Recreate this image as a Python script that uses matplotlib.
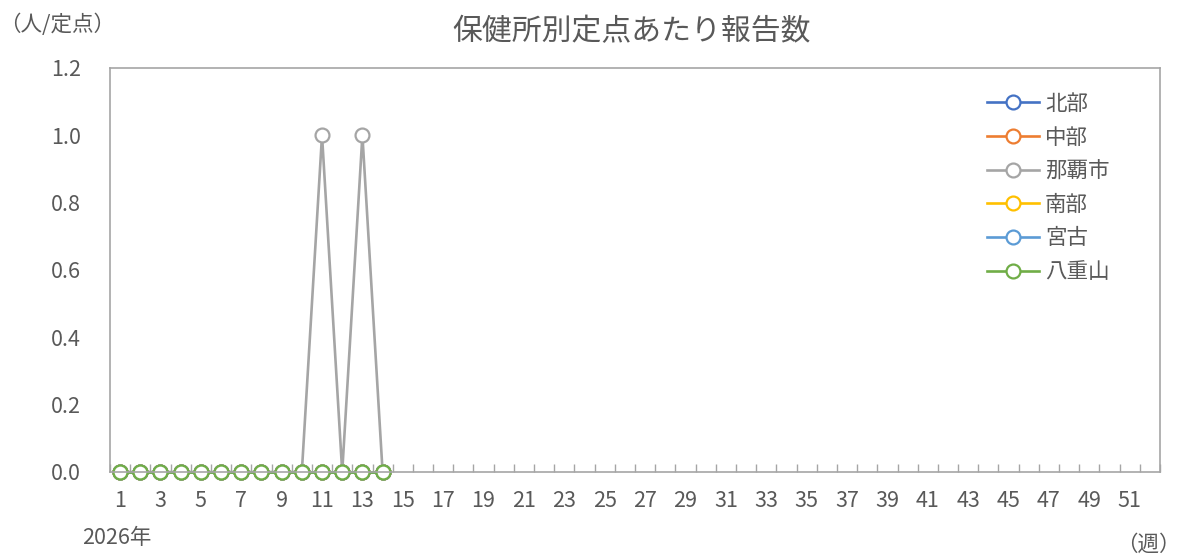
import matplotlib
matplotlib.use("Agg")
import matplotlib.pyplot as plt
import numpy as np

plt.rcParams['font.family'] = ['Noto Sans CJK JP', 'DejaVu Sans']

weeks = list(range(1, 15))
series_names = ['北部', '中部', '那覇市', '南部', '宮古', '八重山']
hokubu = [0, 0, 0, 0, 0, 0, 0, 0, 0, 0, 0, 0, 0, 0]
chubu = [0, 0, 0, 0, 0, 0, 0, 0, 0, 0, 0, 0, 0, 0]
naha = [0, 0, 0, 0, 0, 0, 0, 0, 0, 0, 1, 0, 1, 0]
nanbu = [0, 0, 0, 0, 0, 0, 0, 0, 0, 0, 0, 0, 0, 0]
miyako = [0, 0, 0, 0, 0, 0, 0, 0, 0, 0, 0, 0, 0, 0]
yaeyama = [0, 0, 0, 0, 0, 0, 0, 0, 0, 0, 0, 0, 0, 0]
colors = ['#4472C4', '#ED7D31', '#A5A5A5', '#FFC000', '#5B9BD5', '#70AD47']

xtick_labels = [str(w) for w in range(1, 53, 2)]
yticks = [0.0, 0.2, 0.4, 0.6, 0.8, 1.0, 1.2]

fig = plt.figure(figsize=(11.87, 5.59), dpi=100)
ax = fig.add_axes([110/1187, 87/559, 1050/1187, 404/559])

text_color = '#595959'
fs = 15.5
for name, vals, c in zip(series_names, [hokubu, chubu, naha, nanbu, miyako, yaeyama], colors):
    ax.plot(weeks, vals, color=c, lw=1.9, marker='o', ms=10,
            mfc='white', mec=c, mew=1.6, label=name, clip_on=False)

ax.set_xlim(0.5, 52.5)
ax.set_ylim(0, 1.2)
ax.set_yticks(yticks)
ax.set_yticklabels(['%.1f' % v for v in yticks])
ax.set_xticks(range(1, 53, 2))
ax.set_xticklabels(xtick_labels)
ax.set_xticks(np.arange(0.5, 53, 1), minor=True)
ax.tick_params(axis='x', which='major', length=0, pad=13, labelsize=fs, labelcolor=text_color)
ax.tick_params(axis='x', which='minor', direction='in', length=6, color='#A5A5A5', width=1)
ax.tick_params(axis='y', length=0, pad=21, labelsize=fs, labelcolor=text_color)
for s in ax.spines.values():
    s.set_color('#A5A5A5')
    s.set_linewidth(1.2)

fig.text(632/1187, 1 - 32/559, '保健所別定点あたり報告数', ha='center', va='center',
         fontsize=21.5, color=text_color)
fig.text(-1/1187, 1 - 25/559, '（人/定点）', ha='left', va='center',
         fontsize=fs, color=text_color)
fig.text(82/1187, 1 - 538/559, '2026年', ha='left', va='center',
         fontsize=fs, color=text_color)
fig.text(1181/1187, 1 - 545/559, '（週）', ha='right', va='center',
         fontsize=fs, color=text_color)

leg = ax.legend(loc='upper left', bbox_to_anchor=(987/1187, 1 - 93/559),
                bbox_transform=fig.transFigure, frameon=False, borderpad=0,
                borderaxespad=0, fontsize=fs, handlelength=2.4,
                labelspacing=0.54, handletextpad=0.3)
for t in leg.get_texts():
    t.set_color(text_color)

fig.savefig('out.png', dpi=100)
